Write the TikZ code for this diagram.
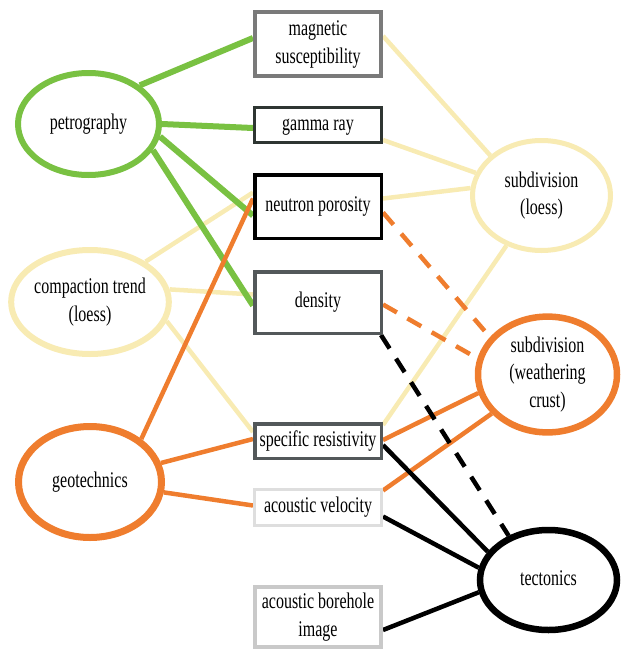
\documentclass[tikz,border=0pt]{standalone}
\usepackage{fontspec}
\setmainfont{Liberation Serif}
\newfontfamily\labelserif{Liberation Serif}
\usepackage{graphicx}
\usetikzlibrary{shapes.geometric,calc,backgrounds}

% tall, narrow label text (one or more centred lines)
\newcommand{\tallstack}[1]{\scalebox{1}[1.4]{\begin{tabular}{@{}c@{}}#1\end{tabular}}}

\definecolor{petrogreen}{HTML}{79C142}
\definecolor{loessyellow}{HTML}{F8EBB3}
\definecolor{geoorange}{HTML}{EF7D2E}
\definecolor{boxgray}{HTML}{7A7A7A}
\definecolor{boxdark}{HTML}{2E3532}
\definecolor{boxmid}{HTML}{53585A}
\definecolor{boxlight}{HTML}{DEDEDE}
\definecolor{boxpale}{HTML}{C9C9C9}

\tikzset{
  labelfont/.style={font=\labelserif\fontsize{16}{19.5}\selectfont},
  logbox/.style={rectangle, draw, fill=white, inner sep=0pt, labelfont},
  topic/.style={ellipse, draw, fill=white, inner sep=0pt, labelfont},
  greenlink/.style={draw=petrogreen, line width=6pt},
  yellowlink/.style={draw=loessyellow, line width=4.5pt},
  orangelink/.style={draw=geoorange, line width=4.5pt},
  blacklink/.style={draw=black, line width=4.5pt},
  dashedlink/.style={dash pattern=on 16pt off 12pt},
}

\begin{document}
\begin{tikzpicture}[x=1pt, y=-1pt]
\useasboundingbox (0,0) rectangle (624,651);

% ---- measurement boxes (middle column)
\node[logbox, draw=boxgray, line width=4pt, minimum width=126pt, minimum height=64pt]
  (mag) at (318,44) {\tallstack{magnetic\\susceptibility}};
\node[logbox, draw=boxdark, line width=3pt, minimum width=127pt, minimum height=35pt]
  (gamma) at (318,125) {\tallstack{gamma ray}};
\node[logbox, draw=black, line width=3.5pt, minimum width=126.5pt, minimum height=63.5pt]
  (neutron) at (318,206.5) {\tallstack{neutron porosity}};
\node[logbox, draw=boxmid, line width=3.5pt, minimum width=126.5pt, minimum height=61.5pt]
  (density) at (318,302.5) {\tallstack{density}};
\node[logbox, draw=boxmid, line width=3.5pt, minimum width=126.5pt, minimum height=34.5pt]
  (spec) at (318,441) {\tallstack{specific resistivity}};
\node[logbox, draw=boxlight, line width=3pt, minimum width=127pt, minimum height=36pt]
  (acvel) at (318,507.5) {\tallstack{acoustic velocity}};
\node[logbox, draw=boxpale, line width=4pt, minimum width=126pt, minimum height=60pt]
  (bore) at (318,617) {\tallstack{acoustic borehole\\image}};

% ---- topics (left and right columns)
\node[topic, draw=petrogreen, line width=6pt, minimum width=141pt, minimum height=102pt]
  (petro) at (88.5,124) {\tallstack{petrography}};
\node[topic, draw=loessyellow, line width=6pt, minimum width=140pt, minimum height=104pt]
  (comp) at (90,302) {\tallstack{compaction trend\\(loess)}};
\node[topic, draw=geoorange, line width=7pt, minimum width=143pt, minimum height=111pt]
  (geo) at (90,482) {\tallstack{geotechnics}};
\node[topic, draw=loessyellow, line width=5pt, minimum width=138pt, minimum height=110pt]
  (loess) at (541.5,195.5) {\tallstack{subdivision\\(loess)}};
\node[topic, draw=geoorange, line width=6.5pt, minimum width=139pt, minimum height=109pt]
  (crust) at (547.5,374.5) {\tallstack{subdivision\\(weathering\\crust)}};
\node[topic, draw=black, line width=6.5pt, minimum width=137pt, minimum height=100pt]
  (tect) at (548.5,580) {\tallstack{tectonics}};

% ---- connectors, drawn behind the nodes
\begin{scope}[on background layer]
  % loess-related links
  \draw[yellowlink] (comp.36)  -- ($(neutron.west)+(0,-14)$);
  \draw[yellowlink] (comp.9)   -- ($(density.west)+(0,-8)$);
  \draw[yellowlink] (comp.346) -- ($(spec.west)+(0,-9)$);
  \draw[yellowlink] ($(mag.east)+(0,-8)$)      -- (loess.142);
  \draw[yellowlink] ($(gamma.east)+(0,15)$)    -- (loess.161);
  \draw[yellowlink] ($(neutron.east)+(0,-8)$)  -- (loess.174);
  \draw[yellowlink] ($(spec.north east)+(0,3)$) -- (loess.235);

  % petrography links
  \draw[greenlink] (petro.37)  -- ($(mag.west)+(0,-6)$);
  \draw[greenlink] (petro.0)   -- ($(gamma.west)+(0,3)$);
  \draw[greenlink] (petro.350) -- ($(neutron.west)+(0,9)$);
  \draw[greenlink] (petro.338) -- ($(density.west)+(0,3)$);

  % geotechnics and weathering-crust links
  \draw[orangelink] (geo.40)  -- ($(neutron.west)+(0,-8)$);
  \draw[orangelink] (geo.15)  -- ($(spec.west)+(0,-2)$);
  \draw[orangelink] (geo.352) -- ($(acvel.west)+(0,-2)$);
  \draw[orangelink, dashedlink] ($(neutron.east)+(0,6)$) -- (crust.147);
  \draw[orangelink, dashedlink] ($(density.east)+(0,2)$) -- (crust.167);
  \draw[orangelink] ($(spec.east)+(0,-1)$)   -- (crust.195);
  \draw[orangelink] ($(acvel.east)+(0,-17)$) -- (crust.215);

  % tectonics links
  \draw[blacklink, dashedlink] ($(density.south east)+(-2,0)$) -- (tect.132);
  \draw[blacklink] ($(spec.east)+(0,4)$)  -- (tect.155);
  \draw[blacklink] ($(acvel.east)+(0,9)$) -- (tect.170);
  \draw[blacklink] ($(bore.east)+(0,13)$) -- (tect.190);
\end{scope}
\end{tikzpicture}
\end{document}
